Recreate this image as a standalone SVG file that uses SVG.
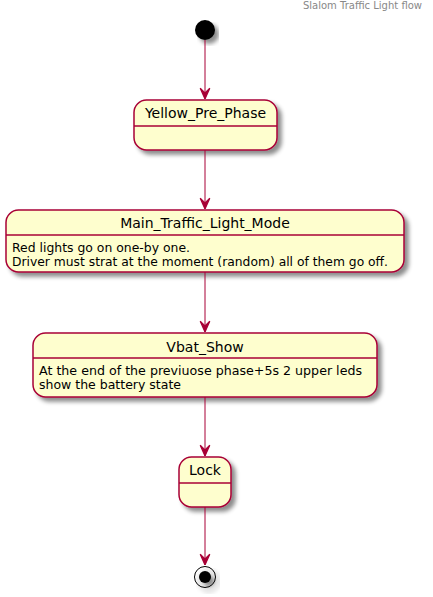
<svg xmlns="http://www.w3.org/2000/svg" width="433" height="597" viewBox="0 0 433 597">
<defs>
<filter id="sh" x="-10%" y="-10%" width="130%" height="140%">
<feGaussianBlur in="SourceAlpha" stdDeviation="2"/>
<feColorMatrix type="matrix" values="0 0 0 0 0  0 0 0 0 0  0 0 0 0 0  0 0 0 0.45 0"/>
<feOffset dx="4" dy="4" result="b"/>
<feMerge><feMergeNode in="b"/><feMergeNode in="SourceGraphic"/></feMerge>
</filter>
<marker id="ah" markerWidth="12" markerHeight="12" viewBox="0 0 10 10" refX="10" refY="5" orient="auto" markerUnits="userSpaceOnUse">
<polygon points="1,1 10,5 1,9 5,5" fill="#A80036" stroke="#A80036" stroke-width="1"/>
</marker>
<style>
.st{fill:#FEFECE;stroke:#A80036;stroke-width:1.5}
.sep{stroke:#A80036;stroke-width:1.5}
.t{font-family:"DejaVu Sans",sans-serif;font-size:14px;fill:#000;text-anchor:middle}
.b{font-family:"DejaVu Sans",sans-serif;font-size:12.5px;fill:#000}
.c{stroke:#A80036;stroke-width:1;fill:none}
</style>
</defs>
<text x="422" y="9" font-family="DejaVu Sans,sans-serif" font-size="10" fill="#888888" text-anchor="end">Slalom Traffic Light flow</text>
<g id="start"><circle cx="205" cy="30" r="10" fill="#000" filter="url(#sh)"/></g>
<g id="Yellow_Pre_Phase">
<rect class="st" x="134" y="100" width="143" height="50" rx="12.5" filter="url(#sh)"/>
<line class="sep" x1="134" y1="126" x2="277" y2="126"/>
<text class="t" x="205.5" y="118">Yellow_Pre_Phase</text>
</g>
<g id="Main_Traffic_Light_Mode">
<rect class="st" x="6" y="210" width="398" height="62" rx="12.5" filter="url(#sh)"/>
<line class="sep" x1="6" y1="235" x2="404" y2="235"/>
<text class="t" x="205" y="228">Main_Traffic_Light_Mode</text>
<text class="b" x="12" y="252" textLength="178" lengthAdjust="spacingAndGlyphs">Red lights go on one-by one.</text>
<text class="b" x="12" y="266" textLength="376" lengthAdjust="spacingAndGlyphs">Driver must strat at the moment (random) all of them go off.</text>
</g>
<g id="Vbat_Show">
<rect class="st" x="33" y="333" width="344" height="64" rx="12.5" filter="url(#sh)"/>
<line class="sep" x1="33" y1="358" x2="377" y2="358"/>
<text class="t" x="205" y="352">Vbat_Show</text>
<text class="b" x="39" y="375" textLength="323" lengthAdjust="spacingAndGlyphs">At the end of the previuose phase+5s 2 upper leds</text>
<text class="b" x="39" y="389" textLength="142" lengthAdjust="spacingAndGlyphs">show the battery state</text>
</g>
<g id="Lock">
<rect class="st" x="179" y="457" width="52" height="50" rx="12.5" filter="url(#sh)"/>
<line class="sep" x1="179" y1="483" x2="231" y2="483"/>
<text class="t" x="205" y="475">Lock</text>
</g>
<g id="end" filter="url(#sh)">
<circle cx="205" cy="577" r="10.5" fill="none" stroke="#000" stroke-width="1"/>
<circle cx="205" cy="577" r="6" fill="#000"/>
</g>
<g id="connectors">
<line class="c" x1="205" y1="40" x2="205" y2="99" marker-end="url(#ah)"/>
<line class="c" x1="205" y1="150" x2="205" y2="209" marker-end="url(#ah)"/>
<line class="c" x1="205" y1="272" x2="205" y2="332" marker-end="url(#ah)"/>
<line class="c" x1="205" y1="397" x2="205" y2="456" marker-end="url(#ah)"/>
<line class="c" x1="205" y1="507" x2="205" y2="565" marker-end="url(#ah)"/>
</g>
</svg>
